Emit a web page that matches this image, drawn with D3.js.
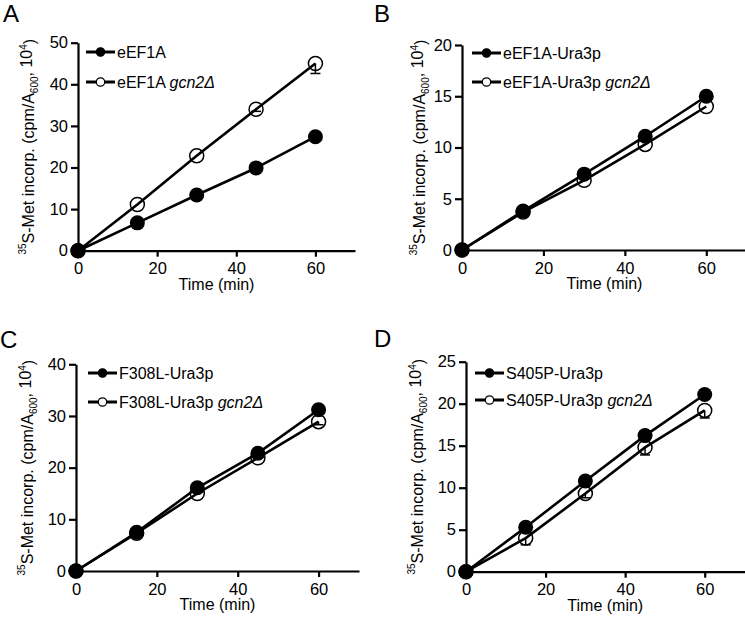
<!DOCTYPE html>
<html>
<head>
<meta charset="utf-8">
<script src="https://cdn.jsdelivr.net/npm/d3@7"></script>
<style>
  html, body { margin: 0; padding: 0; background: #fff; }
  svg { display: block; }
  text { font-family: "Liberation Sans", Arial, Helvetica, sans-serif; fill: #000; }
</style>
</head>
<body>
<svg id="chart" width="745" height="618"></svg>
<script>
// ---- data ----
const times = [0, 15, 30, 45, 60];
const xTicks = [0, 20, 40, 60];

const aFilled = [0, 6.7, 13.4, 19.9, 27.4];
const aOpen = [0, 11.1, 22.8, 34.0, 45.0];
const aOpenErr = [0, 0, 0, 0.5, 2.4];
const aYTicks = [0, 10, 20, 30, 40, 50];
const aLabels = ["eEF1A", "eEF1A "];

const bFilled = [0, 3.8, 7.4, 11.1, 15.0];
const bOpen = [0, 3.7, 6.8, 10.3, 14.0];
const bOpenErr = [0, 0, 0, 0, 0];
const bYTicks = [0, 5, 10, 15, 20];
const bLabels = ["eEF1A-Ura3p", "eEF1A-Ura3p "];

const cFilled = [0, 7.5, 16.1, 22.8, 31.2];
const cOpen = [0, 7.3, 15.0, 21.9, 28.9];
const cOpenErr = [0, 0, 0, 0, 0.6];
const cYTicks = [0, 10, 20, 30, 40];
const cLabels = ["F308L-Ura3p", "F308L-Ura3p "];

const dFilled = [0, 5.3, 10.8, 16.2, 21.1];
const dOpen = [0, 4.0, 9.3, 14.8, 19.2];
const dOpenErr = [0, 0.8, 0.5, 0.9, 0.9];
const dYTicks = [0, 5, 10, 15, 20, 25];
const dLabels = ["S405P-Ura3p", "S405P-Ura3p "];

const italicSuffix = "gcn2Δ";
const panelLetters = ["A", "B", "C", "D"];
const xTitle = "Time (min)";

// ---- layout (positions only) ----
const panels = [
  {letter: panelLetters[0], lx: 3, ly: 22, x0: 78, x1: 355, y0: 250.7, y1: 42.7, ymax: 50,
   yTicks: aYTicks, filled: aFilled, open: aOpen, err: aOpenErr, labels: aLabels,
   titleX: 31, legX: 86, legY: [52, 82]},
  {letter: panelLetters[1], lx: 374, ly: 22, x0: 462, x1: 747, y0: 250, y1: 45, ymax: 20,
   yTicks: bYTicks, filled: bFilled, open: bOpen, err: bOpenErr, labels: bLabels,
   titleX: 422, legX: 472, legY: [53, 82]},
  {letter: panelLetters[2], lx: 0, ly: 348, x0: 76, x1: 359, y0: 571, y1: 364.3, ymax: 40,
   yTicks: cYTicks, filled: cFilled, open: cOpen, err: cOpenErr, labels: cLabels,
   titleX: 30, legX: 88, legY: [373, 402]},
  {letter: panelLetters[3], lx: 374, ly: 347, x0: 466, x1: 744.5, y0: 571.7, y1: 361.7, ymax: 25,
   yTicks: dYTicks, filled: dFilled, open: dOpen, err: dOpenErr, labels: dLabels,
   titleX: 420, legX: 475, legY: [373, 400]}
];

const svg = d3.select("#chart");

panels.forEach(p => {
  const g = svg.append("g");
  const x = d3.scaleLinear().domain([0, 70]).range([p.x0, p.x1]);
  const y = d3.scaleLinear().domain([0, p.ymax]).range([p.y0, p.y1]);

  // panel letter
  g.append("text").attr("x", p.lx).attr("y", p.ly)
    .attr("font-size", 24).text(p.letter);

  // x axis
  const xa = g.append("g").attr("transform", `translate(0,${p.y0})`)
    .call(d3.axisBottom(x).tickValues(xTicks).tickSize(6).tickSizeOuter(0).tickPadding(6));
  // y axis
  const ya = g.append("g").attr("transform", `translate(${p.x0},0)`)
    .call(d3.axisLeft(y).tickValues(p.yTicks).tickSize(7).tickSizeOuter(0).tickPadding(3));
  [xa, ya].forEach(a => {
    a.select(".domain").attr("stroke", "#000").attr("stroke-width", 2.2);
    a.selectAll(".tick line").attr("stroke", "#000").attr("stroke-width", 2.2);
    a.selectAll(".tick text").attr("font-size", 16.5)
      .attr("font-family", '"Liberation Sans", Arial, Helvetica, sans-serif').attr("fill", "#000");
  });

  // axis titles
  g.append("text").attr("x", (p.x0 + p.x1) / 2).attr("y", p.y0 + 39)
    .attr("text-anchor", "middle").attr("font-size", 16).text(xTitle);

  const yt = g.append("text")
    .attr("transform", `translate(${p.titleX},${(p.y0 + p.y1) / 2}) rotate(-90)`)
    .attr("text-anchor", "middle").attr("dy", "0.35em").attr("font-size", 16);
  yt.append("tspan").attr("font-size", 10).attr("dy", "-0.5em").text("35");
  yt.append("tspan").attr("dy", "0.5em").text("S-Met incorp. (cpm/A");
  yt.append("tspan").attr("font-size", 10).attr("dy", "0.35em").text("600");
  yt.append("tspan").attr("dy", "-0.35em").text(", 10");
  yt.append("tspan").attr("font-size", 10).attr("dy", "-0.5em").text("4");
  yt.append("tspan").attr("dy", "0.5em").text(")");

  const line = d3.line().x((d, i) => x(times[i])).y(d => y(d));

  // open series (drawn first)
  g.append("path").datum(p.open).attr("d", line)
    .attr("fill", "none").attr("stroke", "#000").attr("stroke-width", 2.6);
  // error bars (downward)
  p.open.forEach((v, i) => {
    const e = p.err[i];
    if (!e) return;
    g.append("line").attr("x1", x(times[i])).attr("x2", x(times[i]))
      .attr("y1", y(v)).attr("y2", y(v - e)).attr("stroke", "#000").attr("stroke-width", 1.5);
    g.append("line").attr("x1", x(times[i]) - 5).attr("x2", x(times[i]) + 5)
      .attr("y1", y(v - e)).attr("y2", y(v - e)).attr("stroke", "#000").attr("stroke-width", 1.5);
  });
  g.selectAll(null).data(p.open).enter().append("circle")
    .attr("cx", (d, i) => x(times[i])).attr("cy", d => y(d)).attr("r", 7)
    .attr("fill", "none").attr("stroke", "#000").attr("stroke-width", 1.5);

  // filled series
  g.append("path").datum(p.filled).attr("d", line)
    .attr("fill", "none").attr("stroke", "#000").attr("stroke-width", 2.6);
  g.selectAll(null).data(p.filled).enter().append("circle")
    .attr("cx", (d, i) => x(times[i])).attr("cy", d => y(d)).attr("r", 7.5)
    .attr("fill", "#000");

  // legend
  p.legY.forEach((ly, k) => {
    g.append("line").attr("x1", p.legX).attr("x2", p.legX + 29)
      .attr("y1", ly).attr("y2", ly).attr("stroke", "#000").attr("stroke-width", 3);
    g.append("circle").attr("cx", p.legX + 14.5).attr("cy", ly).attr("r", 4.2)
      .attr("fill", k === 0 ? "#000" : "#fff").attr("stroke", "#000").attr("stroke-width", 1.2);
    const t = g.append("text").attr("x", p.legX + 31).attr("y", ly).attr("dy", "0.35em")
      .attr("font-size", 16);
    t.append("tspan").text(p.labels[k]);
    if (k === 1) t.append("tspan").attr("font-style", "italic").text(italicSuffix);
  });
});
</script>
</body>
</html>
